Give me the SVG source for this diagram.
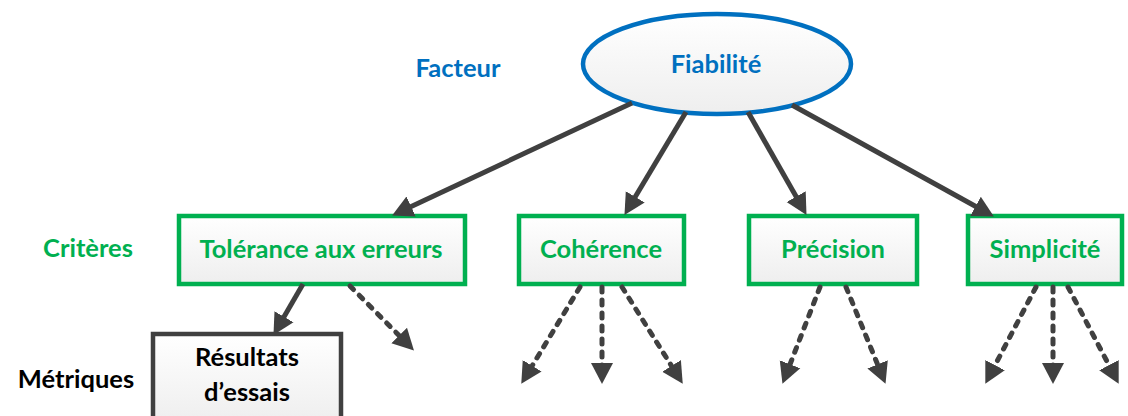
<svg xmlns="http://www.w3.org/2000/svg" width="1128" height="416" viewBox="0 0 1128 416">
<style>
text{font-family:Lato,"Open Sans","Liberation Sans",sans-serif;font-weight:bold;text-anchor:middle}
.crit rect{fill:url(#g);stroke:#00B050;stroke-width:4.5}
.crit text{fill:#00B050;font-size:25.5px}
.lbl{font-size:25.5px}
.c line{stroke:#404040;stroke-width:5;marker-end:url(#ah)}
.c .d{stroke-dasharray:5 8;stroke-linecap:round}
</style>
<defs>
<linearGradient id="g" x1="0" y1="0" x2="0" y2="1"><stop offset="0" stop-color="#ffffff"/><stop offset="1" stop-color="#eeeeee"/></linearGradient>
<marker id="ah" markerUnits="userSpaceOnUse" viewBox="0 -12 21 24" markerWidth="21" markerHeight="24" refX="4" refY="0" orient="auto"><path d="M0,-11 L21,0 L0,11 z" fill="#404040"/></marker>
</defs>
<text class="lbl" x="458" y="77" fill="#0070C0">Facteur</text>
<text class="lbl" x="88" y="257" fill="#00B050">Critères</text>
<text class="lbl" x="76" y="388" fill="#000000">Métriques</text>
<g id="n-fiabilite"><ellipse cx="717" cy="64" rx="134" ry="50" fill="url(#g)" stroke="#0070C0" stroke-width="4.5"/><text x="716" y="73" fill="#0070C0" font-size="25.5">Fiabilité</text></g>
<g id="n-tolerance" class="crit"><rect x="179" y="216" width="286" height="68"/><text x="321" y="258">Tolérance aux erreurs</text></g>
<g id="n-coherence" class="crit"><rect x="519" y="216" width="165" height="68"/><text x="601" y="258">Cohérence</text></g>
<g id="n-precision" class="crit"><rect x="749" y="216" width="168" height="68"/><text x="833" y="258">Précision</text></g>
<g id="n-simplicite" class="crit"><rect x="968" y="216" width="154" height="68"/><text x="1045" y="258">Simplicité</text></g>
<g id="n-resultats"><rect x="153" y="334" width="188" height="90" fill="url(#g)" stroke="#404040" stroke-width="4.5"/><text x="247" y="366" font-size="25.5" fill="#000">Résultats</text><text x="247" y="401" font-size="25.5" fill="#000">d’essais</text></g>
<g id="connectors" class="c">
<line x1="632" y1="103" x2="407.5" y2="208.2"/>
<line x1="686" y1="112" x2="633.2" y2="200.3"/>
<line x1="748" y1="112" x2="798.1" y2="200.1"/>
<line x1="792" y1="105" x2="979" y2="208.3"/>
<line x1="303" y1="284" x2="282" y2="320.2"/>
<line class="d" x1="350" y1="286" x2="402" y2="338.4"/>
<line class="d" x1="580" y1="287" x2="530.1" y2="369.2"/>
<line class="d" x1="602" y1="287" x2="602" y2="367"/>
<line class="d" x1="622" y1="287" x2="673.7" y2="369.3"/>
<line class="d" x1="820" y1="287" x2="788.6" y2="368"/>
<line class="d" x1="846" y1="287" x2="879.1" y2="368.1"/>
<line class="d" x1="1036" y1="287" x2="993.2" y2="368.7"/>
<line class="d" x1="1053" y1="287" x2="1053" y2="367"/>
<line class="d" x1="1068" y1="287" x2="1110.8" y2="368.7"/>
</g>
</svg>
